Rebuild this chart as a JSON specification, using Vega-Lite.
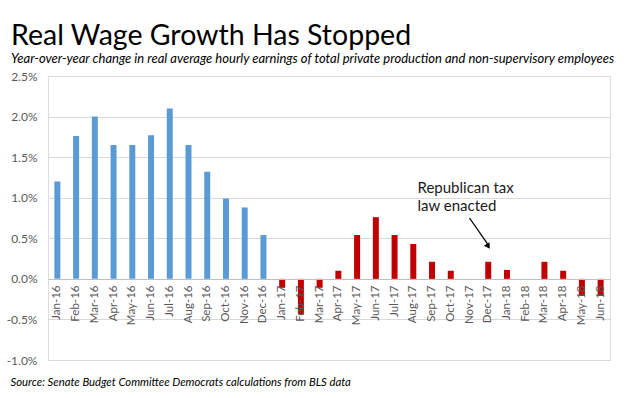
{
  "$schema": "https://vega.github.io/schema/vega-lite/v6.json",
  "width": 562,
  "height": 284,
  "autosize": "none",
  "padding": {"left": 48, "top": 76, "right": 15, "bottom": 38},
  "background": "white",
  "title": {
    "text": "Real Wage Growth Has Stopped",
    "subtitle": "Year-over-year  change in real average hourly earnings of total private production and non-supervisory employees",
    "anchor": "start",
    "frame": "group",
    "dx": -37,
    "offset": 4,
    "font": "Lato",
    "fontSize": 28.5,
    "fontWeight": "normal",
    "color": "#000000",
    "subtitleFont": "Lato",
    "subtitleFontSize": 13,
    "subtitleFontStyle": "italic",
    "subtitleColor": "#000000",
    "subtitlePadding": 3
  },
  "datasets": {
    "wages": [
      {"month": "Jan-16", "value": 1.2, "period": "2016"},
      {"month": "Feb-16", "value": 1.76, "period": "2016"},
      {"month": "Mar-16", "value": 2.0, "period": "2016"},
      {"month": "Apr-16", "value": 1.65, "period": "2016"},
      {"month": "May-16", "value": 1.65, "period": "2016"},
      {"month": "Jun-16", "value": 1.77, "period": "2016"},
      {"month": "Jul-16", "value": 2.1, "period": "2016"},
      {"month": "Aug-16", "value": 1.65, "period": "2016"},
      {"month": "Sep-16", "value": 1.32, "period": "2016"},
      {"month": "Oct-16", "value": 0.99, "period": "2016"},
      {"month": "Nov-16", "value": 0.88, "period": "2016"},
      {"month": "Dec-16", "value": 0.54, "period": "2016"},
      {"month": "Jan-17", "value": -0.11, "period": "2017-18"},
      {"month": "Feb-17", "value": -0.44, "period": "2017-18"},
      {"month": "Mar-17", "value": -0.11, "period": "2017-18"},
      {"month": "Apr-17", "value": 0.1, "period": "2017-18"},
      {"month": "May-17", "value": 0.54, "period": "2017-18"},
      {"month": "Jun-17", "value": 0.76, "period": "2017-18"},
      {"month": "Jul-17", "value": 0.54, "period": "2017-18"},
      {"month": "Aug-17", "value": 0.43, "period": "2017-18"},
      {"month": "Sep-17", "value": 0.21, "period": "2017-18"},
      {"month": "Oct-17", "value": 0.1, "period": "2017-18"},
      {"month": "Nov-17", "value": 0.0, "period": "2017-18"},
      {"month": "Dec-17", "value": 0.21, "period": "2017-18"},
      {"month": "Jan-18", "value": 0.11, "period": "2017-18"},
      {"month": "Feb-18", "value": 0.0, "period": "2017-18"},
      {"month": "Mar-18", "value": 0.21, "period": "2017-18"},
      {"month": "Apr-18", "value": 0.1, "period": "2017-18"},
      {"month": "May-18", "value": -0.21, "period": "2017-18"},
      {"month": "Jun-18", "value": -0.21, "period": "2017-18"}
    ],
    "note": [
      {"month": "Nov-17", "value": 1.06, "label": "Republican tax\nlaw enacted"}
    ],
    "arrow": [
      {"month": "Nov-17", "value": 0.75, "month2": "Dec-17", "value2": 0.42}
    ],
    "head": [
      {"month": "Dec-17", "value": 0.4}
    ]
  },
  "layer": [
    {
      "data": {"name": "wages"},
      "mark": {"type": "bar"},
      "encoding": {
        "x": {
          "field": "month",
          "type": "nominal",
          "sort": null,
          "scale": {"paddingInner": 0.68, "paddingOuter": 0.34},
          "axis": {
            "title": "Source:  Senate Budget Committee  Democrats  calculations from BLS data",
            "titleFont": "Lato",
            "titleFontSize": 11.3,
            "titleFontStyle": "italic",
            "titleFontWeight": "normal",
            "titleColor": "#000000",
            "titleAnchor": "start",
            "titleAlign": "left",
            "titleBaseline": "alphabetic",
            "titleX": -38,
            "titleY": 106,
            "offset": -81,
            "zindex": 1,
            "grid": false,
            "ticks": false,
            "domainColor": "#bfbfbf",
            "labelAngle": -90,
            "labelAlign": "right",
            "labelBaseline": "middle",
            "labelPadding": 6,
            "labelFont": "Lato",
            "labelFontSize": 11.5,
            "labelColor": "#595959"
          }
        },
        "y": {
          "field": "value",
          "type": "quantitative",
          "scale": {"domain": [-1, 2.5], "nice": false, "zero": false},
          "axis": {
            "title": null,
            "values": [-1, -0.5, 0, 0.5, 1, 1.5, 2, 2.5],
            "labelExpr": "(datum.value < 0 ? '-' : '') + format(abs(datum.value), '.1f') + '%'",
            "domain": false,
            "ticks": false,
            "gridColor": "#d9d9d9",
            "labelPadding": 11,
            "labelFont": "Lato",
            "labelFontSize": 12,
            "labelColor": "#595959"
          }
        },
        "color": {
          "field": "period",
          "type": "nominal",
          "scale": {"domain": ["2016", "2017-18"], "range": ["#5b9bd5", "#c00000"]},
          "legend": null
        }
      }
    },
    {
      "data": {"name": "note"},
      "mark": {"type": "text", "align": "left", "baseline": "alphabetic", "dx": -52, "lineBreak": "\n", "lineHeight": 18, "font": "Lato", "fontSize": 15, "color": "#1a1a1a"},
      "encoding": {
        "x": {"field": "month", "type": "nominal", "sort": null},
        "y": {"field": "value", "type": "quantitative"},
        "text": {"field": "label"}
      }
    },
    {
      "data": {"name": "arrow"},
      "mark": {"type": "rule", "color": "#000000", "strokeWidth": 1.3},
      "encoding": {
        "x": {"field": "month", "type": "nominal", "sort": null},
        "y": {"field": "value", "type": "quantitative"},
        "x2": {"field": "month2"},
        "y2": {"field": "value2"}
      }
    },
    {
      "data": {"name": "head"},
      "mark": {"type": "point", "shape": "triangle-down", "filled": true, "color": "#000000", "size": 45, "angle": 328, "opacity": 1},
      "encoding": {
        "x": {"field": "month", "type": "nominal", "sort": null},
        "y": {"field": "value", "type": "quantitative"}
      }
    }
  ]
}
